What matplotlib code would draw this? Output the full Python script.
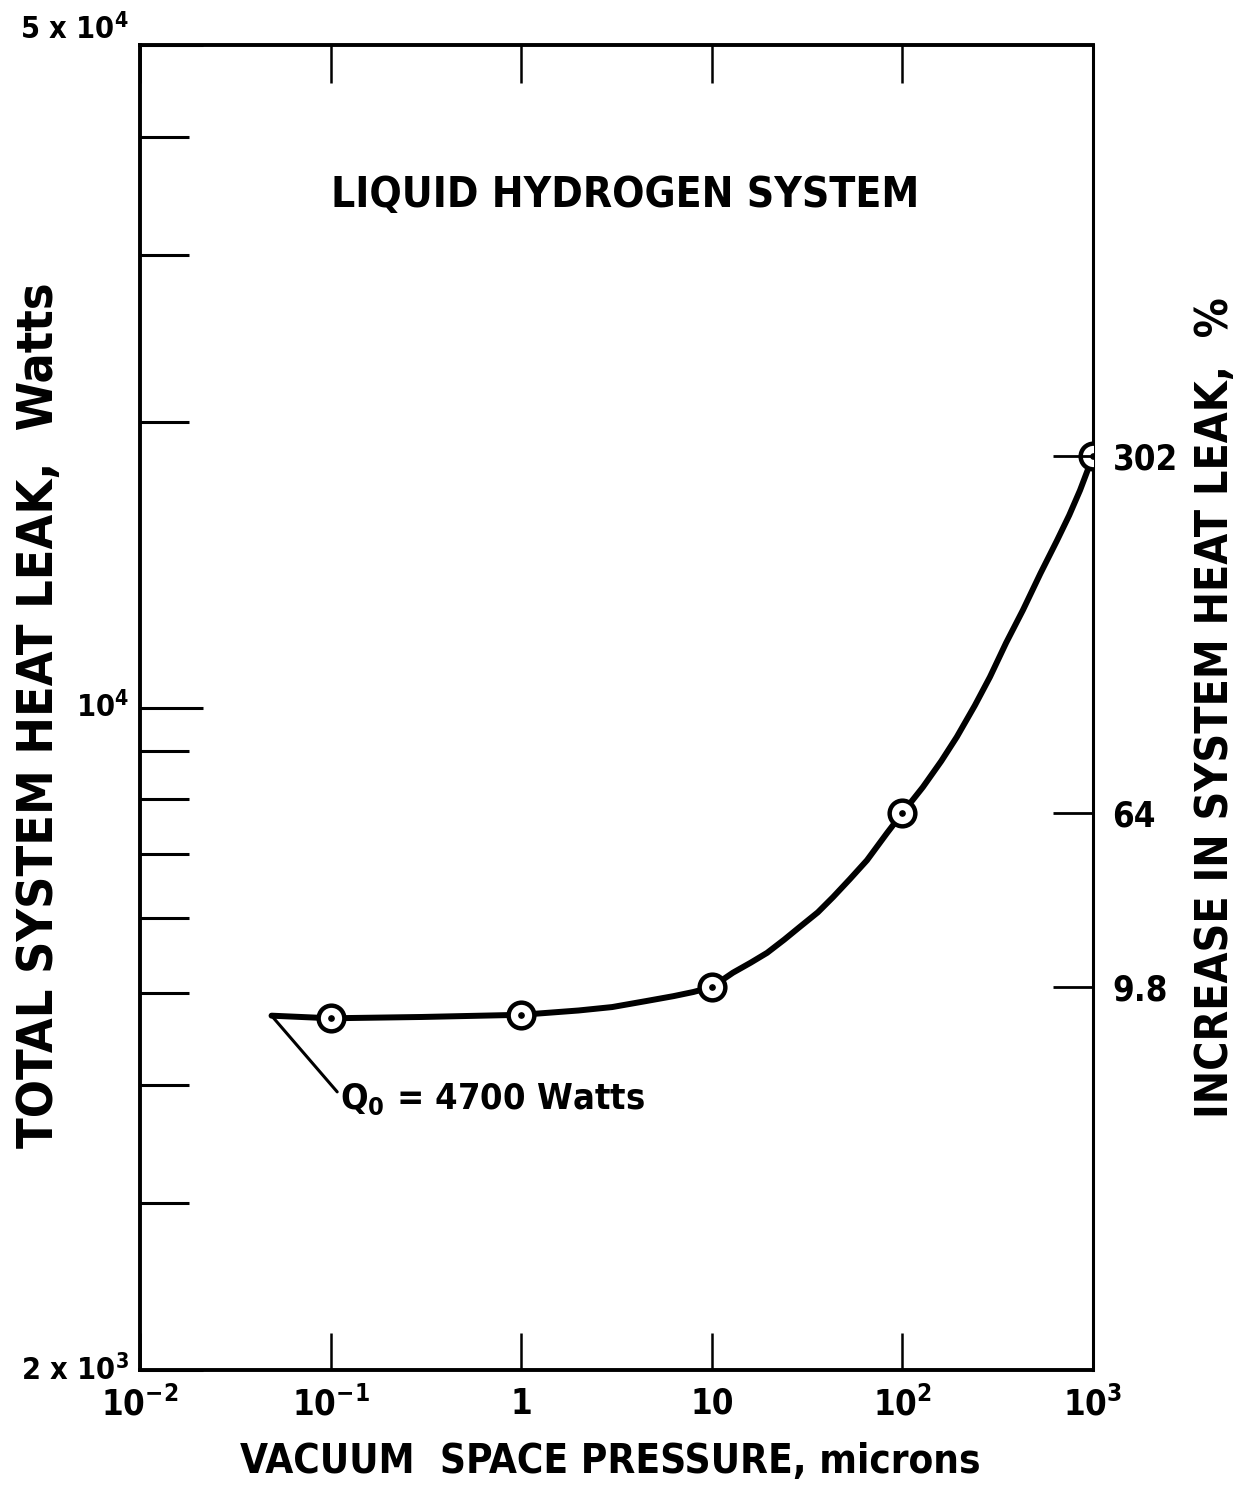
import matplotlib
matplotlib.use("Agg")
import matplotlib.pyplot as plt
from matplotlib.ticker import LogLocator, NullLocator, NullFormatter

plt.rcParams['font.family'] = ['DejaVu Sans']
plt.rcParams['font.stretch'] = 'condensed'
plt.rcParams['font.weight'] = 'bold'
plt.rcParams['mathtext.fontset'] = 'custom'
plt.rcParams['mathtext.rm'] = 'DejaVu Sans:bold'
plt.rcParams['mathtext.it'] = 'DejaVu Sans:bold'
plt.rcParams['mathtext.bf'] = 'DejaVu Sans:bold'

# measured points (pressure in microns, heat leak in watts)
pts_x = [0.1, 1, 10, 100, 1000]
pts_y = [4700, 4740, 5070, 7740, 18420]

# faired curve
curve_x = [0.049, 0.07, 0.1, 0.3, 1, 2, 3, 4.5, 6.3, 8, 10, 12.9, 16, 19.5, 24,
           29, 36, 43.3, 53, 65.2, 83, 100, 128, 160, 193, 240, 288, 350, 429,
           530, 647, 750, 855, 1000]
curve_y = [4730, 4715, 4700, 4715, 4740, 4790, 4830, 4900, 4960, 5010, 5070,
           5250, 5380, 5510, 5690, 5870, 6080, 6310, 6590, 6900, 7370, 7740,
           8240, 8780, 9310, 10050, 10770, 11700, 12670, 13850, 15000, 15950,
           16950, 18420]

pct_labels = ['9.8', '64', '302']
x_ticks = [1e-2, 1e-1, 1, 10, 1e2, 1e3]
x_labels = ['10$^{-2}$', '10$^{-1}$', '1', '10', '10$^{2}$', '10$^{3}$']
y_ticks = [2e3, 1e4, 5e4]
y_labels = ['2 x 10$^{3}$', '10$^{4}$', '5 x 10$^{4}$']

fig = plt.figure(figsize=(12.4, 14.92), dpi=100)
ax = fig.add_axes([140/1240, 1-1370/1492, (1093-140)/1240, (1370-45)/1492])
ax.set_xscale('log'); ax.set_yscale('log')
ax.set_xlim(1e-2, 1e3); ax.set_ylim(2e3, 5e4)

ax.plot(curve_x, curve_y, color='black', lw=4.3, solid_joinstyle='round',
        solid_capstyle='round', zorder=3)
ax.plot(pts_x, pts_y, 'o', ms=18.5, mfc='white', mec='black', mew=3.2, zorder=4)
ax.plot(pts_x, pts_y, 'o', ms=3.8, color='black', zorder=5)

for s in ax.spines.values():
    s.set_linewidth(2.8)
ax.spines['right'].set_linewidth(2.2)

ax.set_xticks(x_ticks, x_labels)
ax.xaxis.set_minor_locator(NullLocator())
ax.tick_params(axis='x', which='major', direction='in', length=27, width=1.8,
               top=True, labelsize=25, pad=12)
ax.set_yticks(y_ticks, y_labels)
ax.yaxis.set_minor_locator(LogLocator(base=10, subs=range(2, 10)))
ax.yaxis.set_minor_formatter(NullFormatter())
ax.tick_params(axis='y', which='major', direction='in', length=45, width=2.2,
               right=False, labelsize=22, pad=8)
ax.tick_params(axis='y', which='minor', direction='in', length=35, width=2.2,
               right=False)
ylab = ax.get_yticklabels()
ylab[0].set_va('center')
ylab[1].set_va('center')
ylab[-1].set_va('bottom')

ax2 = ax.twinx()
ax2.set_yscale('log'); ax2.set_ylim(2e3, 5e4)
ax2.set_yticks(pts_y[2:], pct_labels)
ax2.yaxis.set_minor_locator(NullLocator())
ax2.tick_params(axis='y', direction='in', length=29, width=2.0, labelsize=25, pad=14)
for s in ax2.spines.values():
    s.set_visible(False)

ax.text(0.509, 0.887, 'LIQUID HYDROGEN SYSTEM', transform=ax.transAxes,
        ha='center', va='center', fontsize=30.5)
ax.annotate('Q$_0$ = 4700 Watts', xy=(curve_x[0], curve_y[0]), xytext=(0.112, 3860),
            ha='left', va='center', fontsize=26,
            arrowprops=dict(arrowstyle='-', lw=2.2, color='black',
                            shrinkA=0, shrinkB=0, relpos=(0, 0.62)))

fig.text(610/1240, 1-1462/1492, 'VACUUM  SPACE PRESSURE, microns',
         ha='center', va='center', fontsize=29)
fig.text(39/1240, 1-715/1492, 'TOTAL SYSTEM HEAT LEAK,  Watts', rotation=90,
         ha='center', va='center', fontsize=36)
fig.text(1216/1240, 1-708/1492, 'INCREASE IN SYSTEM HEAT LEAK,  %', rotation=90,
         ha='center', va='center', fontsize=32)

fig.savefig('out.png', dpi=100, facecolor='white')
